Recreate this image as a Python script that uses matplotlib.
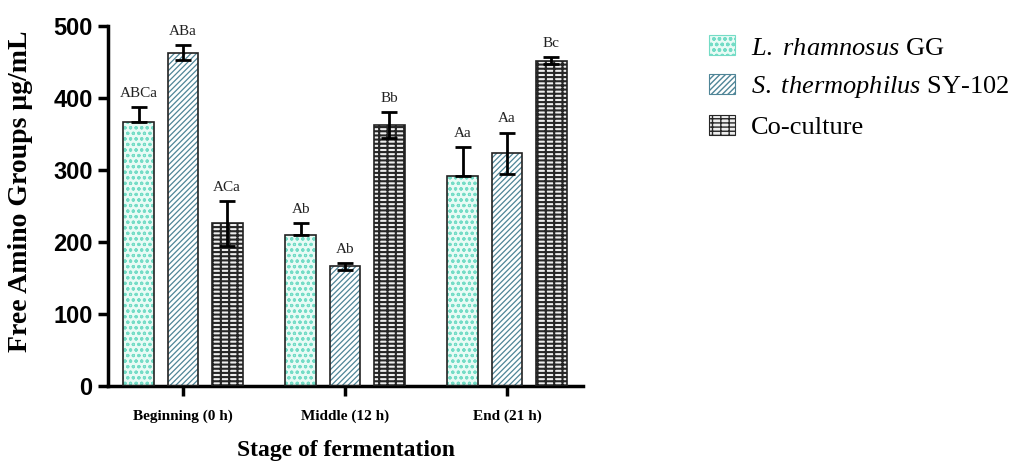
import matplotlib.pyplot as plt
import numpy as np
from matplotlib.patches import Patch

plt.rcParams['mathtext.fontset'] = 'custom'
plt.rcParams['mathtext.it'] = 'Liberation Serif:italic'
plt.rcParams['mathtext.rm'] = 'Liberation Serif'

stages = ['Beginning (0 h)', 'Middle (12 h)', 'End (21 h)']
series = ['L. rhamnosus GG', 'S. thermophilus SY-102', 'Co-culture']
lgg = [366, 209, 292]
lgg_err = [21, 17, 40]
sth = [463, 166, 323]
sth_err = [10, 5, 29]
co = [226, 362, 452]
co_err = [31, 18, 5]
lgg_lab = ['ABCa', 'Ab', 'Aa']
sth_lab = ['ABa', 'Ab', 'Aa']
co_lab = ['ACa', 'Bb', 'Bc']

# face, hatch colour, hatch, hatch linewidth
styles = [('#e8fbf5', '#74dcc6', 'ooo', 0.8),
          ('#ffffff', '#4f8597', '//////', 0.9),
          ('#eeeeee', '#262626', '++--', 1.5)]

fig = plt.figure(figsize=(10.13, 4.61), dpi=100)
ax = fig.add_axes([0.1066, 0.1627, 0.469, 0.781])

x = np.arange(len(stages))
w = 0.19
off = 0.273
data = [(lgg, lgg_err, lgg_lab), (sth, sth_err, sth_lab), (co, co_err, co_lab)]
for i, (vals, errs, labs) in enumerate(data):
    fc, hc, hp, hlw = styles[i]
    xs = x + (i - 1) * off
    with plt.rc_context({'hatch.linewidth': hlw}):
        ax.bar(xs, vals, w, color=fc, edgecolor=hc, hatch=hp, linewidth=0, zorder=2)
    ax.bar(xs, vals, w, fill=False, edgecolor='#222222', linewidth=1.2, zorder=3)
    if i == 0:
        yerr = [[0] * len(errs), errs]
    else:
        yerr = errs
    ax.errorbar(xs, vals, yerr=yerr, fmt='none', ecolor='black', elinewidth=2,
                capsize=6, capthick=2, zorder=4)
    for xi, v, e, t in zip(xs, vals, errs, labs):
        ax.text(xi, v + e + 10, t, ha='center', va='bottom', fontsize=11,
                family='Liberation Serif', color='#222222')

ax.set_xlim(-0.463, 2.469)
ax.set_ylim(0, 500)
ax.set_yticks([0, 100, 200, 300, 400, 500])
ax.set_xticks(x)
ax.set_xticklabels(stages, family='Liberation Serif', fontweight='bold', fontsize=11)
for t in ax.get_yticklabels():
    t.set_family('Liberation Sans')
    t.set_fontweight('bold')
    t.set_fontsize(17)
ax.tick_params(width=2.5, length=7, pad=4)
ax.tick_params(axis='x', pad=10)
for s in ['top', 'right']:
    ax.spines[s].set_visible(False)
for s in ['left', 'bottom']:
    ax.spines[s].set_linewidth(2.5)

ax.set_xlabel('Stage of fermentation', family='Liberation Serif',
              fontweight='bold', fontsize=17, labelpad=12)
ax.set_ylabel('Free Amino Groups \u03bcg/mL', family='Liberation Serif',
              fontweight='bold', fontsize=20)
ax.yaxis.set_label_coords(-0.158, 0.54)

handles = []
for fc, hc, hp, hlw in styles:
    with plt.rc_context({'hatch.linewidth': hlw}):
        handles.append(Patch(facecolor=fc, edgecolor=hc, hatch=hp))
labels = [r'$\it{L.\ rhamnosus}$ GG', r'$\it{S.\ thermophilus}$ SY-102', 'Co-culture']
leg = fig.legend(handles, labels, loc='upper left', bbox_to_anchor=(0.676, 0.975),
                 frameon=False, prop={'family': 'Liberation Serif', 'size': 19},
                 handlelength=1.0, handleheight=0.8, labelspacing=0.55,
                 handletextpad=0.6)
for p in leg.get_patches():
    p.set_linewidth(0.8)

fig.savefig('out.png', dpi=100)
